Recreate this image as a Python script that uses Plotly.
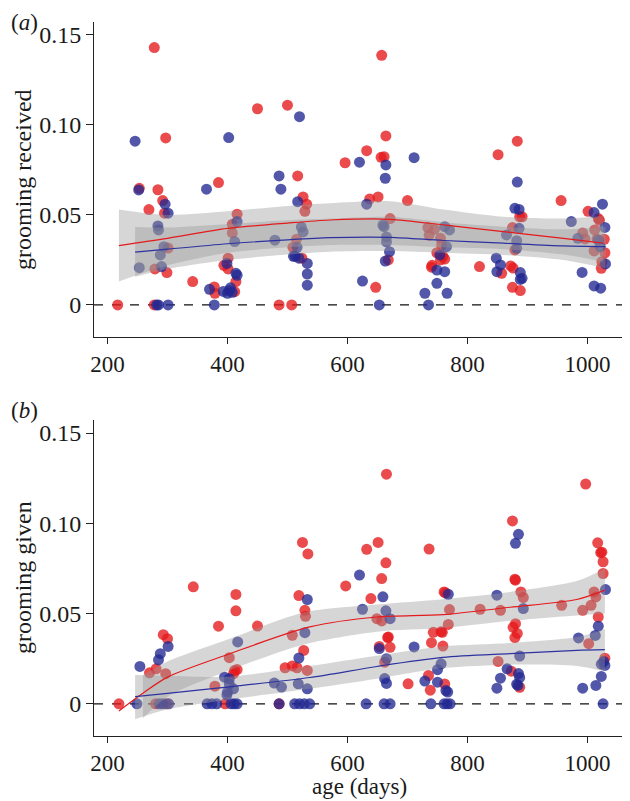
import plotly.graph_objects as go

# ---------------- data: panel (a) grooming received ----------------
a_red_age = [217, 278, 253, 284, 269, 297, 292, 295, 301, 279, 299, 278, 342, 378, 385, 416, 408, 408,
             401, 394, 401, 414, 379, 412, 450, 500, 517, 526, 532, 529, 515, 509, 524, 486, 507,
             657, 664, 632, 661, 656, 596, 637, 651, 700, 671, 668, 647,
             734, 745, 736, 755, 757, 749, 759, 762, 755, 740, 741, 820,
             851, 883, 887, 891, 875, 879, 872, 876, 857, 875, 888,
             956, 1001, 1018, 1020, 992, 1012, 996, 1016, 1028, 1011, 1029, 1024, 1023]
a_red_val = [0, 0.143, 0.0648, 0.064, 0.053, 0.0928, 0.058, 0.051, 0.0316, 0.020, 0.018, 0, 0.013, 0.010,
             0.068, 0.0504, 0.0448, 0.040, 0.026, 0.022, 0.020, 0.013, 0.0065, 0.0074, 0.109, 0.111,
             0.0717, 0.060, 0.056, 0.052, 0.0365, 0.032, 0.026, 0, 0,
             0.1387, 0.0939, 0.0857, 0.0824, 0.082, 0.079, 0.0589, 0.060, 0.058, 0.048, 0.025, 0.0098,
             0.043, 0.042, 0.0387, 0.037, 0.0333, 0.029, 0.027, 0.0255, 0.025, 0.021, 0.022, 0.0213,
             0.0835, 0.091, 0.049, 0.049, 0.043, 0.0306, 0.0217, 0.0205, 0.0176, 0.0098, 0.008,
             0.058, 0.052, 0.048, 0.047, 0.040, 0.0417, 0.0367, 0.0367, 0.0365, 0.030, 0.029, 0.024, 0.0204]

a_blue_age = [246, 252, 253, 284, 285, 296, 301, 294, 288, 290, 282, 285, 301,
              365, 402, 416, 412, 399, 414, 416, 370, 378, 393, 400, 405, 408, 403,
              479, 486, 489, 520, 517, 523, 526, 516, 510, 513, 519, 533, 533, 533,
              620, 711, 664, 663, 632, 659, 661, 665, 665, 670, 663, 625, 653,
              762, 770, 765, 754, 749, 762, 749, 729, 766, 735,
              883, 879, 886, 886, 865, 882, 882, 848, 855, 849, 888, 891, 888,
              973, 984, 991, 1011, 1025, 1029, 1018, 1021, 1030, 1011, 1022]
a_blue_val = [0.091, 0.0639, 0.0207, 0.0439, 0.0417, 0.056, 0.051, 0.0324, 0.0278, 0.0213, 0, 0, 0,
              0.0643, 0.093, 0.0463, 0.0352, 0.0231, 0.0176, 0.0165, 0.0087, 0, 0.0075, 0.0065, 0.0095, 0.007, 0.008,
              0.036, 0.0717, 0.0643, 0.1046, 0.0574, 0.0433, 0.0406, 0.032, 0.027, 0.027, 0.026, 0.0231, 0.0172, 0.011,
              0.0793, 0.0818, 0.0778, 0.0704, 0.056, 0.0444, 0.0435, 0.0378, 0.035, 0.0296, 0.0244, 0.0133, 0,
              0.0435, 0.0417, 0.0324, 0.0278, 0.0194, 0.0185, 0.012, 0.0065, 0.0065, 0,
              0.0683, 0.0537, 0.0531, 0.0426, 0.0389, 0.0357, 0.0315, 0.026, 0.0222, 0.0185, 0.018, 0.0148, 0.0142,
              0.0463, 0.037, 0.0181, 0.0513, 0.056, 0.0431, 0.036, 0.0324, 0.0228, 0.0106, 0.0093]

# smoothed fits with confidence bands
a_red_fit_age = [219, 300, 400, 500, 571, 671, 760, 860, 960, 1026]
a_red_fit = [0.033, 0.037, 0.0425, 0.0455, 0.0472, 0.0476, 0.0445, 0.0407, 0.037, 0.0343]
a_red_lo = [0.013, 0.022, 0.029, 0.032, 0.0333, 0.0333, 0.032, 0.031, 0.028, 0.024]
a_red_hi = [0.053, 0.050, 0.052, 0.055, 0.0565, 0.0576, 0.053, 0.049, 0.048, 0.0494]

a_blue_fit_age = [246, 300, 400, 500, 571, 671, 760, 860, 960, 1030]
a_blue_fit = [0.0293, 0.031, 0.034, 0.0362, 0.0374, 0.0376, 0.0358, 0.0343, 0.0328, 0.0324]
a_blue_lo = [0.0157, 0.020, 0.025, 0.028, 0.0296, 0.030, 0.029, 0.0278, 0.025, 0.0204]
a_blue_hi = [0.0433, 0.043, 0.045, 0.047, 0.048, 0.049, 0.046, 0.0435, 0.042, 0.0435]

# ---------------- data: panel (b) grooming given ----------------
b_red_age = [219, 270, 281, 297, 293, 300, 280, 298,
             343, 385, 414, 414, 403, 379, 412, 416, 410, 396,
             450, 525, 534, 519, 529, 530, 508, 527, 496, 508, 516, 533, 486,
             665, 651, 632, 664, 657, 597, 639, 649, 657, 667, 668, 653, 671, 662,
             736, 761, 763, 770, 768, 743, 756, 758, 740, 759, 735, 701, 738, 762,
             821, 855, 875, 879, 880, 889, 893, 880, 876, 883, 879, 851, 873, 887,
             997, 1017, 1022, 1024, 1026, 1026, 1011, 1014, 957, 992, 1006, 1018, 1002, 1029]
b_red_val = [0, 0.0172, 0.0194, 0.0167, 0.0383, 0.0361, 0, 0,
             0.0648, 0.0430, 0.0606, 0.0515, 0.0256, 0.0098, 0.0185, 0.019, 0.0167, 0,
             0.0431, 0.0894, 0.083, 0.060, 0.0518, 0.0485, 0.038, 0.0296, 0.020, 0.021, 0.020, 0.0185, 0,
             0.1272, 0.0894, 0.0856, 0.0781, 0.0694, 0.0653, 0.0583, 0.0472, 0.0459, 0.0367, 0.037, 0.0318, 0.0313, 0.0231,
             0.0857, 0.062, 0.0615, 0.0522, 0.044, 0.0396, 0.040, 0.0396, 0.0339, 0.032, 0.0157, 0.0111, 0.0076, 0.011,
             0.0524, 0.0518, 0.1013, 0.069, 0.0685, 0.062, 0.0589, 0.0444, 0.0424, 0.039, 0.0367, 0.0235, 0.0181, 0.0092,
             0.1217, 0.0892, 0.0837, 0.084, 0.0787, 0.0722, 0.062, 0.0592, 0.0546, 0.0518, 0.0546, 0.0481, 0.0333, 0.0253]

b_blue_age = [254, 285, 288, 301, 249, 286, 292, 302,
              395, 400, 399, 403, 403, 417, 410, 366, 374, 382, 406, 411, 416,
              478, 490, 518, 533, 519, 529, 533, 486, 512, 520, 528, 537,
              620, 625, 659, 664, 671, 653, 665, 662, 665, 631, 661, 671,
              711, 768, 756, 750, 729, 750, 764, 767, 739, 761, 766, 771,
              849, 885, 880, 893, 887, 866, 855, 849, 885, 887, 882, 884,
              1030, 1018, 1013, 985, 1027, 1023, 1029, 1023, 1014, 992, 1026]
b_blue_val = [0.0207, 0.0244, 0.0278, 0.0318, 0, 0, 0, 0,
              0.0148, 0.0065, 0.005, 0.0139, 0.011, 0.0343, 0.0083, 0, 0, 0, 0, 0, 0,
              0.0115, 0.0093, 0.0111, 0.0083, 0.0254, 0.0394, 0.0578, 0, 0, 0, 0, 0,
              0.0713, 0.0524, 0.0593, 0.0515, 0.0472, 0.0306, 0.025, 0.014, 0.0113, 0, 0, 0,
              0.0315, 0.0607, 0.0222, 0.0189, 0.0126, 0.012, 0.0074, 0.0065, 0, 0, 0, 0,
              0.0602, 0.0939, 0.0889, 0.0528, 0.0265, 0.0194, 0.0142, 0.0087, 0.0168, 0.0146, 0.0109, 0.0102,
              0.0633, 0.043, 0.0379, 0.0365, 0.0235, 0.022, 0.0213, 0.0152, 0.0102, 0.0087, 0]

b_red_fit_age = [219, 259, 300, 399, 537, 649, 759, 871, 982, 1029]
b_red_fit = [-0.0039, 0.0059, 0.0148, 0.0272, 0.0426, 0.0481, 0.0494, 0.0535, 0.0578, 0.063]
b_red_band_age = [259, 300, 399, 526, 649, 759, 871, 982, 1029]
b_red_lo = [-0.008, 0.004, 0.018, 0.0328, 0.040, 0.042, 0.046, 0.049, 0.050]
b_red_hi = [0.016, 0.0235, 0.0355, 0.0505, 0.055, 0.058, 0.062, 0.068, 0.075]

b_blue_fit_age = [246, 300, 399, 537, 649, 759, 871, 982, 1029]
b_blue_fit = [0.004, 0.0058, 0.0093, 0.0146, 0.0207, 0.0257, 0.0278, 0.0296, 0.030]
b_blue_lo = [-0.0085, -0.003, 0.0022, 0.0083, 0.0139, 0.0198, 0.0217, 0.021, 0.018]
b_blue_hi = [0.016, 0.0155, 0.0150, 0.021, 0.0267, 0.0318, 0.0337, 0.037, 0.0415]

x_ticks = [200, 400, 600, 800, 1000]
y_ticks = [0, 0.05, 0.10, 0.15]
y_ticktext = ["0", "0.05", "0.10", "0.15"]

# ---------------- styles ----------------
FONT = "Liberation Serif"
FS = 24
FSX = 23
RED = "rgba(228,26,28,0.78)"
BLUE = "rgba(35,40,145,0.78)"
RED_LINE = "rgb(228,26,28)"
BLUE_LINE = "rgb(45,50,160)"
BAND = "rgba(153,153,153,0.4)"
SM = 0.8

fig = go.Figure()


def add_points(xa, ya, red_age, red_val, blue_age, blue_val):
    fig.add_trace(go.Scatter(x=red_age, y=red_val, mode="markers", xaxis=xa, yaxis=ya,
                             marker=dict(size=11, color=RED, line=dict(width=0)),
                             showlegend=False, hoverinfo="skip"))
    fig.add_trace(go.Scatter(x=blue_age, y=blue_val, mode="markers", xaxis=xa, yaxis=ya,
                             marker=dict(size=11, color=BLUE, line=dict(width=0)),
                             showlegend=False, hoverinfo="skip"))


def add_band(xa, ya, ages, lo, hi):
    fig.add_trace(go.Scatter(x=ages, y=hi, mode="lines", xaxis=xa, yaxis=ya,
                             line=dict(width=0, shape="spline", smoothing=SM),
                             showlegend=False, hoverinfo="skip"))
    fig.add_trace(go.Scatter(x=ages, y=lo, mode="lines", xaxis=xa, yaxis=ya,
                             line=dict(width=0, shape="spline", smoothing=SM), fill="tonexty",
                             fillcolor=BAND, showlegend=False, hoverinfo="skip"))


def add_fit(xa, ya, ages, fit, col):
    fig.add_trace(go.Scatter(x=ages, y=fit, mode="lines", xaxis=xa, yaxis=ya,
                             line=dict(width=1.2, color=col, shape="spline", smoothing=SM),
                             showlegend=False, hoverinfo="skip"))


add_points("x", "y", a_red_age, a_red_val, a_blue_age, a_blue_val)
add_band("x", "y", a_red_fit_age, a_red_lo, a_red_hi)
add_band("x", "y", a_blue_fit_age, a_blue_lo, a_blue_hi)
add_fit("x", "y", a_red_fit_age, a_red_fit, RED_LINE)
add_fit("x", "y", a_blue_fit_age, a_blue_fit, BLUE_LINE)

add_points("x2", "y2", b_red_age, b_red_val, b_blue_age, b_blue_val)
add_band("x2", "y2", b_red_band_age, b_red_lo, b_red_hi)
add_band("x2", "y2", b_blue_fit_age, b_blue_lo, b_blue_hi)
add_fit("x2", "y2", b_red_fit_age, b_red_fit, RED_LINE)
add_fit("x2", "y2", b_blue_fit_age, b_blue_fit, BLUE_LINE)

xcommon = dict(range=[177.5, 1069.2], tickvals=x_ticks, showline=True, linecolor="#222",
               linewidth=1, ticks="outside", ticklen=6, tickcolor="#222", showgrid=False,
               zeroline=False, tickfont=dict(family=FONT, size=FSX, color="#1a1a1a"))
ycommon = dict(tickvals=y_ticks, ticktext=y_ticktext, showline=True, linecolor="#222",
               linewidth=1, ticks="outside", ticklen=7, tickcolor="#222", showgrid=False,
               zeroline=False, tickfont=dict(family=FONT, size=FS, color="#1a1a1a"),
               range=[-0.0178, 0.1572])

# page has an 8px body margin: figure is drawn offset by OFF
OFF = 8
W, H = 630 - OFF, 801 - OFF
L, R, T, B = 94 - OFF, 1, 22 - OFF, 801 - 736
pw, ph = W - L - R, H - T - B


def px(xp):  # reference-page x pixel -> paper
    return (xp - OFF - L) / pw


def py(yp):  # reference-page y pixel -> paper
    return (H - B - (yp - OFF)) / ph


fig.update_layout(
    width=W, height=H,
    margin=dict(l=L, r=R, t=T, b=B),
    paper_bgcolor="white", plot_bgcolor="white",
    font=dict(family=FONT, color="#1a1a1a"),
    xaxis=dict(domain=[0, 1], anchor="y", **xcommon),
    yaxis=dict(domain=[py(337), 1], anchor="x", **ycommon),
    xaxis2=dict(domain=[0, 1], anchor="y2", **xcommon),
    yaxis2=dict(domain=[0, py(420)], anchor="x2", **ycommon),
    shapes=[
        dict(type="line", xref="x domain", yref="y", x0=0, x1=1, y0=0, y1=0,
             line=dict(color="#111", width=1.3, dash="dash"), layer="below"),
        dict(type="line", xref="x2 domain", yref="y2", x0=0, x1=1, y0=0, y1=0,
             line=dict(color="#111", width=1.3, dash="dash"), layer="below"),
    ],
    annotations=[
        dict(text="(<i>a</i>)", xref="paper", yref="paper", x=px(9), y=py(22),
             showarrow=False, font=dict(size=FSX, family=FONT), xanchor="left", yanchor="middle"),
        dict(text="(<i>b</i>)", xref="paper", yref="paper", x=px(9), y=py(410),
             showarrow=False, font=dict(size=FSX, family=FONT), xanchor="left", yanchor="middle"),
        dict(text="grooming received", xref="paper", yref="paper", x=px(23), y=py(180),
             textangle=-90, showarrow=False, font=dict(size=FS, family=FONT),
             xanchor="center", yanchor="middle"),
        dict(text="grooming given", xref="paper", yref="paper", x=px(23), y=py(578),
             textangle=-90, showarrow=False, font=dict(size=FS, family=FONT),
             xanchor="center", yanchor="middle"),
        dict(text="age (days)", xref="paper", yref="paper", x=px(359), y=py(801),
             showarrow=False, font=dict(size=FSX, family=FONT),
             xanchor="center", yanchor="bottom"),
    ],
)

fig.write_html("out.html")
